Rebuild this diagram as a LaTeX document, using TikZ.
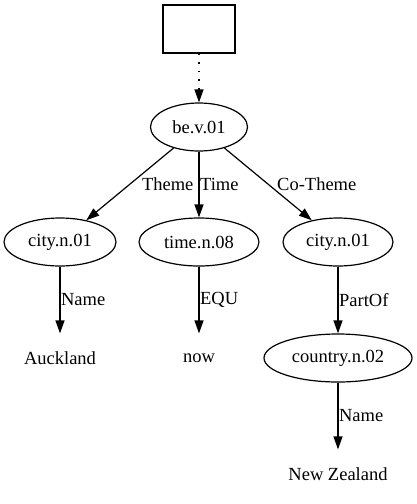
\documentclass[tikz,border=0pt]{standalone}
\usepackage{fontspec}
\setmainfont{Liberation Serif}
\usepackage{tikz}
\usetikzlibrary{shapes.geometric,arrows.meta}

\tikzset{
  concept/.style={draw, ellipse, inner sep=0pt, minimum height=48pt},
  leaf/.style={inner sep=0pt, minimum height=48pt},
  rel/.style={-{Triangle[length=13pt,width=9pt]}},
  lbl/.style={inner sep=0.5pt, anchor=west}
}

\begin{document}
\begin{tikzpicture}[x=1pt, y=-1pt, line width=1.2pt, font=\fontsize{18.5}{21}\selectfont]
\useasboundingbox (0,0) rectangle (417,504);

% Top box
\node[draw, minimum width=72pt, minimum height=48pt, inner sep=0pt] (root) at (199,29) {};

% Concepts
\node[concept, minimum width=97pt] (be) at (199,127) {be.v.01};
\node[concept, minimum width=112pt] (cityA) at (60,242) {city.n.01};
\node[concept, minimum width=120pt] (time) at (199,242) {time.n.08};
\node[concept, minimum width=110pt] (cityB) at (338,242) {city.n.01};
\node[concept, minimum width=148pt] (country) at (338,358) {country.n.02};

% Constants
\node[leaf] (auckland) at (60,358) {Auckland};
\node[leaf] (now) at (199,358) {now};
\node[leaf] (nz) at (338,474) {New Zealand};

% Edges
\draw[dash pattern=on 1.5pt off 7pt, shorten >=13pt] (root) -- (be);
\draw[rel] ([yshift=14pt]be.north) -- (be.north);
\draw[rel] (be) -- (cityA) node[lbl, pos=0.5, xshift=11pt] {Theme};
\draw[rel] (be) -- (time) node[lbl, pos=0.5] {Time};
\draw[rel] (be) -- (cityB) node[lbl, pos=0.5, xshift=8pt] {Co-Theme};
\draw[rel] (cityA) -- (auckland) node[lbl, midway] {Name};
\draw[rel] (time) -- (now) node[lbl, midway] {EQU};
\draw[rel] (cityB) -- (country) node[lbl, midway] {PartOf};
\draw[rel] (country) -- (nz) node[lbl, midway] {Name};
\end{tikzpicture}
\end{document}
